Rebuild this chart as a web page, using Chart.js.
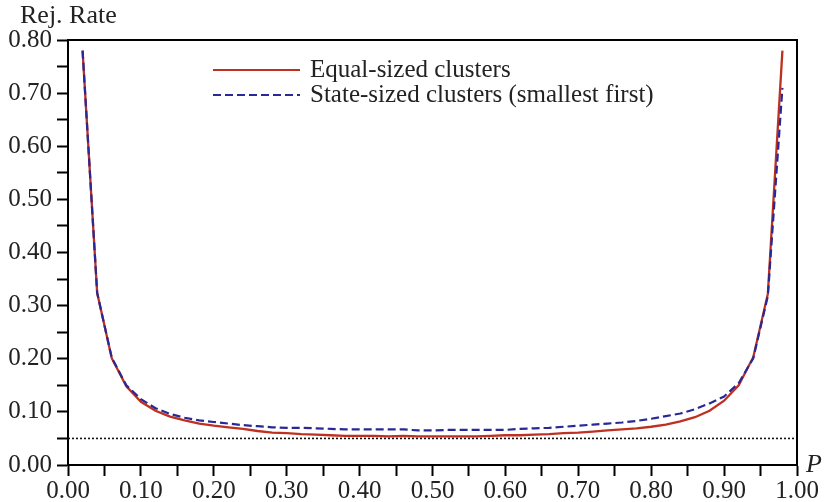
<!DOCTYPE html>
<html>
<head>
<meta charset="utf-8">
<script src="https://cdn.jsdelivr.net/npm/chart.js@4/dist/chart.umd.min.js"></script>
<style>
html,body{margin:0;padding:0;background:#fff;}
#wrap{width:824px;height:502px;}
</style>
</head>
<body>
<div id="wrap"><canvas id="c" width="824" height="502"></canvas></div>
<script>
// ---- data ----
const pValues = [0.02,0.04,0.06,0.08,0.10,0.12,0.14,0.16,0.18,0.20,0.22,0.24,0.26,0.28,0.30,0.32,0.34,0.36,0.38,0.40,0.42,0.44,0.46,0.48,0.50,0.52,0.54,0.56,0.58,0.60,0.62,0.64,0.66,0.68,0.70,0.72,0.74,0.76,0.78,0.80,0.82,0.84,0.86,0.88,0.90,0.92,0.94,0.96,0.98];
const equalSized = [0.780,0.324,0.201,0.148,0.119,0.102,0.091,0.084,0.078,0.074,0.071,0.068,0.064,0.061,0.060,0.058,0.057,0.056,0.055,0.055,0.055,0.054,0.055,0.054,0.054,0.054,0.054,0.054,0.055,0.056,0.056,0.057,0.058,0.060,0.061,0.063,0.065,0.067,0.069,0.072,0.076,0.082,0.090,0.102,0.121,0.150,0.203,0.322,0.780];
const stateSized = [0.780,0.324,0.202,0.150,0.124,0.107,0.096,0.089,0.084,0.081,0.078,0.075,0.073,0.071,0.070,0.070,0.069,0.068,0.067,0.067,0.067,0.067,0.067,0.065,0.065,0.066,0.066,0.066,0.066,0.066,0.068,0.069,0.070,0.072,0.074,0.076,0.078,0.080,0.083,0.087,0.092,0.097,0.105,0.116,0.129,0.154,0.201,0.318,0.710];
const nominalLevel = 0.05;
const referenceSpan = [0, 1];
const seriesNames = ["Equal-sized clusters", "State-sized clusters (smallest first)"];
const yTitle = "Rej. Rate";
const xTitle = "P";

const SERIF = "'Liberation Serif', 'DejaVu Serif', serif";
const RED = "rgb(190,48,32)";
const BLUE = "rgb(40,40,150)";

const toXY = (xs, ys) => xs.map((x, i) => ({x: x, y: ys[i]}));
const fmt = v => {
  const k = Math.round(v * 100);
  return (k % 10 === 0) ? (k / 100).toFixed(2) : '';
};

const overlay = {
  id: 'overlay',
  afterDraw(chart) {
    const ctx = chart.ctx;
    const a = chart.chartArea;
    ctx.save();
    // top and right frame
    ctx.strokeStyle = '#000';
    ctx.lineWidth = 2;
    ctx.beginPath();
    ctx.moveTo(a.left, a.top);
    ctx.lineTo(a.right, a.top);
    ctx.lineTo(a.right, a.bottom);
    ctx.stroke();
    // y title
    ctx.fillStyle = '#222';
    ctx.font = "26px " + SERIF;
    ctx.textAlign = 'left';
    ctx.textBaseline = 'alphabetic';
    ctx.fillText(yTitle, 20, 23);
    // x title
    ctx.font = "italic 26px " + SERIF;
    ctx.fillText(xTitle, 806, 472);
    // legend
    const lx0 = a.left + 145, lx1 = a.left + 232, tx = a.left + 242;
    const rows = [{y: 70, color: RED, dash: [], w: 2.2}, {y: 95, color: BLUE, dash: [8,4], w: 2.2}];
    ctx.font = "25px " + SERIF;
    rows.forEach((r, i) => {
      ctx.strokeStyle = r.color;
      ctx.lineWidth = r.w;
      ctx.setLineDash(r.dash);
      ctx.beginPath();
      ctx.moveTo(lx0, r.y);
      ctx.lineTo(lx1, r.y);
      ctx.stroke();
      ctx.setLineDash([]);
      ctx.fillStyle = '#222';
      ctx.fillText(seriesNames[i], tx, r.y + 7);
    });
    ctx.restore();
  }
};

new Chart(document.getElementById('c'), {
  type: 'line',
  data: {
    datasets: [
      {label: 'nominal', data: referenceSpan.map(x => ({x: x, y: nominalLevel})), borderColor: '#111', borderWidth: 1.6, borderDash: [2,2], pointRadius: 0, order: 3},
      {label: seriesNames[0], data: toXY(pValues, equalSized), borderColor: RED, borderWidth: 2.3, pointRadius: 0, tension: 0, order: 2},
      {label: seriesNames[1], data: toXY(pValues, stateSized), borderColor: BLUE, borderWidth: 2.2, borderDash: [8,4], pointRadius: 0, tension: 0, order: 1}
    ]
  },
  options: {
    responsive: false,
    animation: false,
    devicePixelRatio: 1,
    layout: {padding: {left: 0, right: 27, top: 40, bottom: 0}},
    plugins: {legend: {display: false}, tooltip: {enabled: false}},
    scales: {
      x: {
        type: 'linear', min: 0, max: 1,
        afterFit(s) { s.height = 37; },
        grid: {drawOnChartArea: false, drawTicks: true, tickLength: 11, tickWidth: 2, tickColor: '#000'},
        border: {display: true, color: '#000', width: 2},
        ticks: {stepSize: 0.05, autoSkip: false, maxRotation: 0, padding: 0, color: '#222', font: {family: SERIF, size: 25}, callback: v => fmt(v)}
      },
      y: {
        type: 'linear', min: 0, max: 0.8,
        afterFit(s) { s.width = 68; },
        grid: {drawOnChartArea: false, drawTicks: true, tickLength: 11, tickWidth: 2, tickColor: '#000'},
        border: {display: true, color: '#000', width: 2},
        ticks: {stepSize: 0.05, autoSkip: false, padding: 5, color: '#222', font: {family: SERIF, size: 25}, callback: v => fmt(v)}
      }
    }
  },
  plugins: [overlay]
});
</script>
</body>
</html>
